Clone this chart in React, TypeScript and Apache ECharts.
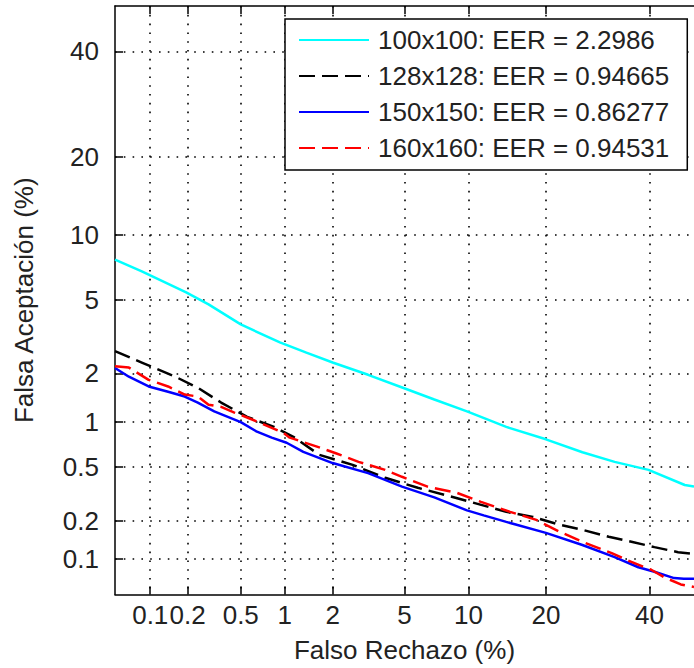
import React, { useEffect, useRef } from "react";
import * as echarts from "echarts";

// Tick labels (percent) for both axes
const tickPercents = [0.1, 0.2, 0.5, 1, 2, 5, 10, 20, 40];
const axisMinPercent = 0.05;
const axisMaxPercent = 50;

const seriesNames = [
  "100x100: EER = 2.2986",
  "128x128: EER = 0.94665",
  "150x150: EER = 0.86277",
  "160x160: EER = 0.94531",
];

// False rejection (%) / false acceptance (%)
const fr100 = [0.05, 0.085, 0.195, 0.29, 0.5, 0.93, 1.38, 2.0, 3.2, 4.9, 7.0, 9.85, 14.3, 20, 26.3, 32.6, 39.8, 47.9, 50];
const fa100 = [7.8, 6.9, 5.46, 4.76, 3.75, 3.0, 2.63, 2.31, 1.96, 1.64, 1.39, 1.17, 0.93, 0.77, 0.63, 0.54, 0.475, 0.37, 0.36];

const fr128 = [0.05, 0.085, 0.16, 0.24, 0.36, 0.555, 0.85, 1.14, 1.66, 2.62, 3.96, 5.82, 7.8, 10.2, 14.3, 18, 22.3, 26.3, 31.4, 36.1, 41.1, 46.4, 50];
const fa128 = [2.68, 2.31, 1.91, 1.64, 1.33, 1.08, 0.93, 0.8, 0.605, 0.515, 0.417, 0.353, 0.314, 0.278, 0.234, 0.214, 0.186, 0.17, 0.15, 0.137, 0.124, 0.113, 0.109];

const fr150 = [0.05, 0.066, 0.097, 0.14, 0.19, 0.24, 0.32, 0.5, 0.65, 0.82, 1.03, 1.32, 2.0, 3.2, 4.85, 7.0, 9.85, 11.6, 14.3, 20, 26.3, 32.6, 37.6, 41.1, 45.5, 47.7, 50];
const fa150 = [2.15, 1.91, 1.67, 1.55, 1.45, 1.33, 1.17, 1.0, 0.865, 0.79, 0.73, 0.634, 0.53, 0.45, 0.36, 0.3, 0.24, 0.22, 0.196, 0.161, 0.129, 0.103, 0.085, 0.078, 0.069, 0.068, 0.068];

const fr160 = [0.05, 0.066, 0.097, 0.14, 0.19, 0.24, 0.29, 0.36, 0.45, 0.555, 0.68, 0.98, 1.08, 1.59, 2.09, 2.83, 3.96, 4.85, 6.5, 8.9, 11.3, 14.8, 18.5, 22.3, 26.8, 32, 36.1, 40.4, 43.3, 47, 50];
const fa160 = [2.2, 2.16, 1.83, 1.67, 1.49, 1.45, 1.29, 1.25, 1.15, 1.07, 0.99, 0.85, 0.79, 0.69, 0.62, 0.54, 0.475, 0.424, 0.36, 0.324, 0.278, 0.234, 0.203, 0.164, 0.134, 0.111, 0.094, 0.081, 0.07, 0.061, 0.058];

// Inverse standard normal CDF (Acklam) - the normal-deviate (DET) axis transform
function probit(p: number): number {
  const a = [-3.969683028665376e1, 2.209460984245205e2, -2.759285104469687e2, 1.38357751867269e2, -3.066479806614716e1, 2.506628277459239];
  const b = [-5.447609879822406e1, 1.615858368580409e2, -1.556989798598866e2, 6.680131188771972e1, -1.328068155288572e1];
  const c = [-7.784894002430293e-3, -3.223964580411365e-1, -2.400758277161838, -2.549732539343734, 4.374664141464968, 2.938163982698783];
  const d = [7.784695709041462e-3, 3.224671290700398e-1, 2.445134137142996, 3.754408661907416];
  const pl = 0.02425;
  if (p < pl) {
    const q = Math.sqrt(-2 * Math.log(p));
    return (((((c[0] * q + c[1]) * q + c[2]) * q + c[3]) * q + c[4]) * q + c[5]) / ((((d[0] * q + d[1]) * q + d[2]) * q + d[3]) * q + 1);
  }
  if (p <= 1 - pl) {
    const q = p - 0.5;
    const r = q * q;
    return ((((((a[0] * r + a[1]) * r + a[2]) * r + a[3]) * r + a[4]) * r + a[5]) * q) / (((((b[0] * r + b[1]) * r + b[2]) * r + b[3]) * r + b[4]) * r + 1);
  }
  const q = Math.sqrt(-2 * Math.log(1 - p));
  return -(((((c[0] * q + c[1]) * q + c[2]) * q + c[3]) * q + c[4]) * q + c[5]) / ((((d[0] * q + d[1]) * q + d[2]) * q + d[3]) * q + 1);
}

const pct = (v: number) => probit(v / 100);
const toData = (fr: number[], fa: number[]) => fr.map((x, i) => [pct(x), pct(fa[i])]);

const FONT = "'Liberation Sans', Arial, Helvetica, sans-serif";
const tickValues = tickPercents.map(pct);
const labelFor = (v: number) => {
  for (const t of tickPercents) if (Math.abs(pct(t) - v) < 1e-6) return String(t);
  return "";
};

export default function App() {
  const ref = useRef<HTMLDivElement>(null);
  useEffect(() => {
    if (!ref.current) return;
    const chart = echarts.init(ref.current, undefined, { renderer: "svg" });
    const axisCommon = {
      type: "value" as const,
      min: pct(axisMinPercent),
      max: pct(axisMaxPercent),
      axisLine: { show: true, onZero: false, lineStyle: { color: "#000", width: 1.5 } },
      axisTick: { show: true, inside: true, length: 8, customValues: tickValues, lineStyle: { color: "#000", width: 1.5 } },
      axisLabel: {
        customValues: tickValues,
        formatter: (v: number) => labelFor(v),
        color: "#222",
        fontSize: 26,
        fontFamily: FONT,
      },
      splitLine: { show: true, lineStyle: { color: "#000", width: 1.6, type: [1.6, 7.2] } },
      nameTextStyle: { color: "#222", fontSize: 26, fontFamily: FONT },
    };
    chart.setOption({
      animation: false,
      backgroundColor: "#fff",
      grid: { left: 115, top: 6, width: 587, height: 588.5, containLabel: false },
      legend: {
        orient: "vertical",
        left: 285,
        top: 19,
        itemWidth: 70,
        itemHeight: 14,
        itemGap: 6,
        padding: [6, 18, 7, 13],
        backgroundColor: "#fff",
        borderColor: "#000",
        borderWidth: 1.5,
        borderRadius: 0,
        itemStyle: { opacity: 0 },
        textStyle: { color: "#222", fontSize: 26, fontFamily: FONT, lineHeight: 30, padding: [0, 0, 0, 4] },
        data: seriesNames,
      },
      xAxis: [
        {
          ...axisCommon,
          position: "bottom",
          name: "Falso Rechazo (%)",
          nameLocation: "middle",
          nameGap: 42,
          axisLabel: { ...axisCommon.axisLabel, margin: 7 },
        },
        {
          ...axisCommon,
          position: "top",
          axisLabel: { show: false },
          splitLine: { show: false },
        },
      ],
      yAxis: [
        {
          ...axisCommon,
          position: "left",
          name: "Falsa Aceptación (%)",
          nameLocation: "middle",
          nameGap: 78,
          axisLabel: { ...axisCommon.axisLabel, margin: 16 },
        },
      ],
      series: [
        { name: seriesNames[0], type: "line", data: toData(fr100, fa100), showSymbol: false, symbol: "none", lineStyle: { color: "#00ffff", width: 2.5 }, itemStyle: { color: "#00ffff" } },
        { name: seriesNames[1], type: "line", data: toData(fr128, fa128), showSymbol: false, symbol: "none", lineStyle: { color: "#000000", width: 2.5, type: [16, 7] }, itemStyle: { color: "#000000" } },
        { name: seriesNames[2], type: "line", data: toData(fr150, fa150), showSymbol: false, symbol: "none", lineStyle: { color: "#0000ff", width: 2.5 }, itemStyle: { color: "#0000ff" } },
        { name: seriesNames[3], type: "line", data: toData(fr160, fa160), showSymbol: false, symbol: "none", lineStyle: { color: "#ff0000", width: 2.5, type: [16, 7] }, itemStyle: { color: "#ff0000" } },
      ],
    });
    return () => chart.dispose();
  }, []);
  return <div ref={ref} style={{ position: "absolute", left: 0, top: 0, width: 694, height: 668 }} />;
}
